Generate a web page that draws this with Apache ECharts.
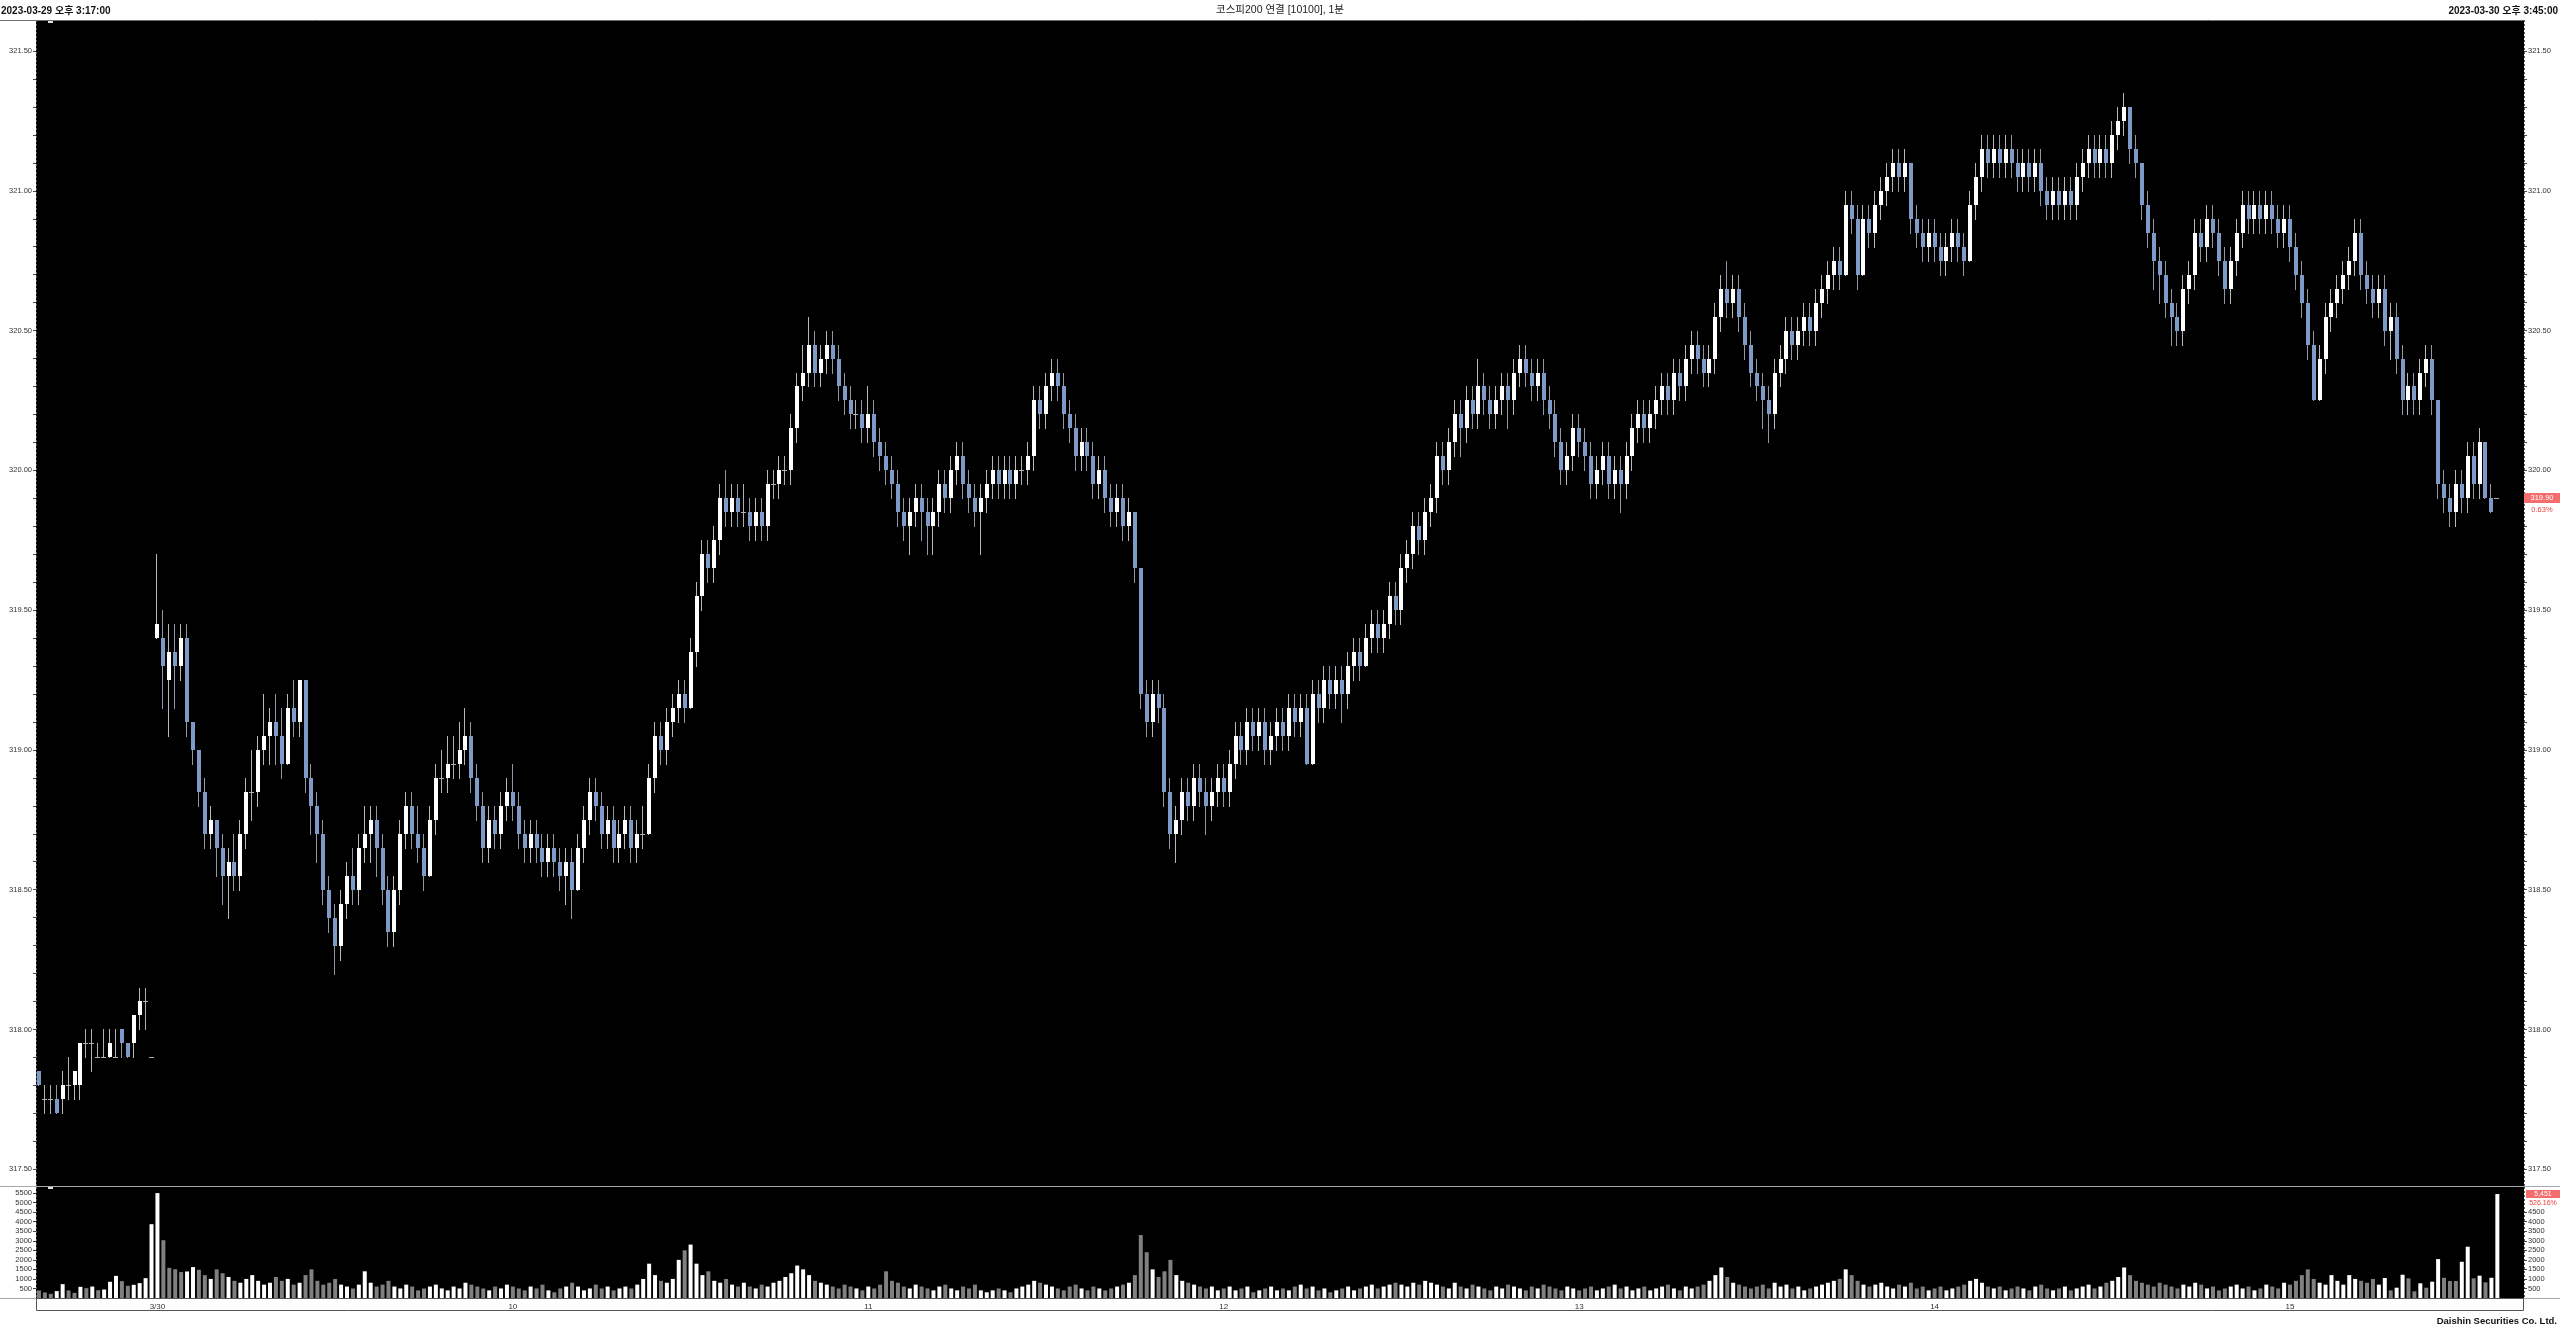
<!DOCTYPE html>
<html><head><meta charset="utf-8">
<script src="https://cdn.jsdelivr.net/npm/echarts@6/dist/echarts.min.js"></script>
<style>html,body{margin:0;padding:0;background:#fff;overflow:hidden}#c{width:2560px;height:1328px}</style>
</head><body><div id="c"></div>
<script>
// ---------------- DATA ----------------
const headerLeft = '2023-03-29 오후 3:17:00';
const headerRight = '2023-03-30 오후 3:45:00';
const titleText = '코스피200 연결 [10100], 1분';
const footerText = 'Daishin Securities Co. Ltd.';
const lastPrice = 319.90, lastChange = '0.63%';
const lastVolume = 5451, volChange = '526.16%';

const priceLabels = [317.5, 318.0, 318.5, 319.0, 319.5, 320.0, 320.5, 321.0, 321.5];
const volLabelsLeft = [500,1000,1500,2000,2500,3000,3500,4000,4500,5000,5500];
const volLabelsRight = [500,1000,1500,2000,2500,3000,3500,4000,4500];
const hourTicks = {'3/30 09:00':'3/30','3/30 10:00':'10','3/30 11:00':'11','3/30 12:00':'12','3/30 13:00':'13','3/30 14:00':'14','3/30 15:00':'15'};

// candles: [open, close, low, high]
const bars0329 = [
[317.85,317.80,317.80,317.85],[317.75,317.75,317.70,317.80],[317.75,317.75,317.70,317.80],[317.75,317.70,317.70,317.80],
[317.75,317.80,317.70,317.85],[317.80,317.80,317.75,317.90],[317.80,317.85,317.75,317.85],[317.80,317.95,317.75,317.95],
[317.95,317.95,317.90,318.00],[317.95,317.95,317.85,318.00],[317.90,317.90,317.90,317.95],[317.90,317.90,317.90,318.00],
[317.90,317.95,317.90,318.00],[317.90,317.90,317.90,318.00],[318.00,317.95,317.90,318.00],[317.95,317.90,317.90,317.95],
[317.95,318.05,317.90,318.05],[318.05,318.10,318.00,318.15],[318.10,318.10,318.00,318.15],[317.90,317.90,317.90,317.90]
];
const vol0329 = [395,290,220,360,725,395,270,585,515,600,410,445,850,1160,885,640,690,780,1040,3870];
const volUp0329 = [0,0,0,1,1,0,0,1,0,1,0,1,1,1,0,0,1,1,1,1];

const bars0330 = [
[319.40,319.45,319.40,319.70],[319.40,319.30,319.15,319.50],[319.25,319.35,319.05,319.45],[319.35,319.30,319.15,319.45],[319.30,319.40,319.25,319.45],
[319.40,319.10,319.05,319.45],[319.10,319.00,318.95,319.10],[319.00,318.85,318.80,319.00],[318.85,318.70,318.65,318.90],[318.70,318.75,318.65,318.80],
[318.75,318.65,318.55,318.75],[318.65,318.55,318.45,318.70],[318.55,318.60,318.40,318.65],[318.60,318.55,318.50,318.70],[318.55,318.70,318.50,318.75],
[318.70,318.85,318.65,318.90],[318.85,318.85,318.75,319.00],[318.85,319.00,318.80,319.05],[319.00,319.05,318.95,319.20],[319.05,319.10,318.95,319.15],
[319.10,319.05,318.95,319.20],[319.05,318.95,318.90,319.15],[318.95,319.15,318.95,319.20],[319.15,319.10,319.05,319.25],[319.10,319.25,319.05,319.25],
[319.25,318.90,318.85,319.25],[318.90,318.80,318.70,318.95],[318.80,318.70,318.60,318.85],[318.70,318.50,318.45,318.75],[318.50,318.40,318.35,318.55],
[318.40,318.30,318.20,318.45],[318.30,318.45,318.25,318.50],[318.45,318.55,318.40,318.60],[318.55,318.50,318.45,318.65],[318.50,318.65,318.45,318.70],
[318.65,318.70,318.60,318.80],[318.70,318.75,318.60,318.80],[318.75,318.65,318.55,318.80],[318.65,318.50,318.45,318.70],[318.50,318.35,318.30,318.55],
[318.35,318.50,318.30,318.55],[318.50,318.70,318.45,318.75],[318.70,318.80,318.65,318.85],[318.80,318.70,318.65,318.85],[318.70,318.65,318.60,318.80],
[318.65,318.55,318.50,318.70],[318.55,318.75,318.55,318.80],[318.75,318.90,318.70,318.95],[318.90,318.90,318.85,319.00],[318.90,318.95,318.85,319.05],
[318.95,318.95,318.90,319.05],[318.95,319.00,318.90,319.10],[319.00,319.05,318.95,319.15],[319.05,318.90,318.85,319.10],[318.90,318.80,318.75,318.95],
[318.80,318.65,318.60,318.85],[318.65,318.75,318.60,318.80],[318.75,318.70,318.65,318.80],[318.70,318.80,318.65,318.85],[318.80,318.85,318.75,318.90],
[318.85,318.80,318.75,318.95],[318.80,318.70,318.65,318.85],[318.70,318.65,318.60,318.75],[318.65,318.70,318.60,318.75],[318.70,318.65,318.60,318.75],
[318.65,318.60,318.55,318.70],[318.60,318.65,318.55,318.70],[318.65,318.60,318.55,318.70],[318.60,318.55,318.50,318.65],[318.55,318.60,318.45,318.65],
[318.60,318.50,318.40,318.65],[318.50,318.65,318.50,318.70],[318.65,318.75,318.60,318.80],[318.75,318.85,318.70,318.90],[318.85,318.80,318.75,318.90],
[318.80,318.70,318.65,318.85],[318.70,318.75,318.65,318.80],[318.75,318.65,318.60,318.80],[318.65,318.70,318.60,318.75],[318.70,318.75,318.65,318.80],
[318.75,318.65,318.60,318.80],[318.65,318.70,318.60,318.75],[318.70,318.70,318.65,318.80],[318.70,318.90,318.70,318.95],[318.90,319.05,318.85,319.10],
[319.05,319.00,318.95,319.10],[319.00,319.10,318.95,319.15],[319.10,319.15,319.05,319.20],[319.15,319.20,319.10,319.25],[319.20,319.15,319.10,319.25],
[319.15,319.35,319.15,319.40],[319.35,319.55,319.30,319.60],[319.55,319.70,319.50,319.75],[319.70,319.65,319.60,319.75],[319.65,319.75,319.60,319.80],
[319.75,319.90,319.70,319.95],[319.90,319.85,319.80,320.00],[319.85,319.90,319.80,319.95],[319.90,319.85,319.80,319.95],[319.85,319.85,319.80,319.95],
[319.85,319.80,319.75,319.90],[319.80,319.85,319.75,319.90],[319.85,319.80,319.75,319.90],[319.80,319.95,319.75,320.00],[319.95,319.95,319.90,320.00],
[319.95,320.00,319.90,320.05],[320.00,320.00,319.95,320.05],[320.00,320.15,319.95,320.20],[320.15,320.30,320.10,320.35],[320.30,320.35,320.25,320.45],
[320.35,320.45,320.30,320.55],[320.45,320.35,320.30,320.50],[320.35,320.40,320.30,320.45],[320.40,320.45,320.35,320.50],[320.45,320.40,320.35,320.50],
[320.40,320.30,320.25,320.45],[320.30,320.25,320.20,320.35],[320.25,320.20,320.15,320.30],[320.20,320.20,320.15,320.25],[320.20,320.15,320.10,320.25],
[320.15,320.20,320.10,320.30],[320.20,320.10,320.05,320.25],[320.10,320.05,320.00,320.15],[320.05,320.00,319.95,320.10],[320.00,319.95,319.90,320.05],
[319.95,319.85,319.80,320.00],[319.85,319.80,319.75,319.90],[319.80,319.85,319.70,319.90],[319.85,319.90,319.80,319.95],[319.90,319.85,319.75,319.95],
[319.85,319.80,319.70,319.90],[319.80,319.85,319.70,319.90],[319.85,319.95,319.80,320.00],[319.95,319.90,319.85,320.00],[319.90,320.00,319.85,320.05],
[320.00,320.05,319.95,320.10],[320.05,319.95,319.90,320.10],[319.95,319.90,319.85,320.00],[319.90,319.85,319.80,319.95],[319.85,319.90,319.70,319.95],
[319.90,319.95,319.85,320.00],[319.95,320.00,319.90,320.05],[320.00,319.95,319.90,320.05],[319.95,320.00,319.90,320.05],[320.00,319.95,319.90,320.05],
[319.95,320.00,319.90,320.05],[320.00,320.00,319.95,320.05],[320.00,320.05,319.95,320.10],[320.05,320.25,320.00,320.30],[320.25,320.20,320.15,320.30],
[320.20,320.30,320.15,320.35],[320.30,320.35,320.25,320.40],[320.35,320.30,320.25,320.40],[320.30,320.20,320.15,320.35],[320.20,320.15,320.10,320.25],
[320.15,320.05,320.00,320.20],[320.05,320.10,320.00,320.15],[320.10,320.05,320.00,320.15],[320.05,319.95,319.90,320.10],[319.95,320.00,319.90,320.05],
[320.00,319.90,319.85,320.05],[319.90,319.85,319.80,319.95],[319.85,319.90,319.80,319.95],[319.90,319.80,319.75,319.95],[319.80,319.85,319.75,319.90],
[319.85,319.65,319.60,319.85],[319.65,319.20,319.15,319.65],[319.20,319.10,319.05,319.25],[319.10,319.20,319.05,319.25],[319.20,319.15,319.10,319.25],
[319.15,318.85,318.80,319.20],[318.85,318.70,318.65,318.90],[318.70,318.75,318.60,318.80],[318.75,318.85,318.70,318.90],[318.85,318.80,318.75,318.90],
[318.80,318.90,318.75,318.95],[318.90,318.85,318.80,318.95],[318.85,318.80,318.70,318.90],[318.80,318.85,318.75,318.90],[318.85,318.90,318.80,318.95],
[318.90,318.85,318.80,318.95],[318.85,318.95,318.80,319.00],[318.95,319.05,318.90,319.10],[319.05,319.00,318.95,319.10],[319.00,319.10,318.95,319.15],
[319.10,319.05,319.00,319.15],[319.05,319.10,319.00,319.15],[319.10,319.00,318.95,319.15],[319.00,319.05,318.95,319.10],[319.05,319.10,319.00,319.15],
[319.10,319.05,319.00,319.15],[319.05,319.15,319.00,319.20],[319.15,319.10,319.05,319.20],[319.10,319.15,319.05,319.20],[319.15,318.95,318.95,319.20],
[318.95,319.20,318.95,319.25],[319.20,319.15,319.10,319.25],[319.15,319.25,319.10,319.30],[319.25,319.20,319.15,319.30],[319.20,319.25,319.15,319.30],
[319.25,319.20,319.10,319.30],[319.20,319.30,319.15,319.35],[319.30,319.35,319.25,319.40],[319.35,319.30,319.25,319.40],[319.30,319.40,319.30,319.45],
[319.40,319.45,319.35,319.50],[319.45,319.40,319.35,319.50],[319.40,319.45,319.35,319.50],[319.45,319.55,319.40,319.60],[319.55,319.50,319.45,319.60],
[319.50,319.65,319.45,319.70],[319.65,319.70,319.60,319.75],[319.70,319.80,319.65,319.85],[319.80,319.75,319.70,319.85],[319.75,319.85,319.70,319.90],
[319.85,319.90,319.80,319.95],[319.90,320.05,319.85,320.10],[320.05,320.00,319.95,320.10],[320.00,320.10,319.95,320.15],[320.10,320.20,320.05,320.25],
[320.20,320.15,320.05,320.25],[320.15,320.25,320.10,320.30],[320.25,320.20,320.15,320.30],[320.20,320.30,320.15,320.40],[320.30,320.25,320.20,320.35],
[320.25,320.20,320.15,320.30],[320.20,320.25,320.15,320.30],[320.25,320.30,320.20,320.35],[320.30,320.25,320.15,320.35],[320.25,320.35,320.20,320.40],
[320.35,320.40,320.30,320.45],[320.40,320.35,320.30,320.45],[320.35,320.30,320.25,320.40],[320.30,320.35,320.25,320.40],[320.35,320.25,320.20,320.40],
[320.25,320.20,320.15,320.30],[320.20,320.10,320.05,320.25],[320.10,320.00,319.95,320.15],[320.00,320.05,319.95,320.10],[320.05,320.15,320.00,320.20],
[320.15,320.10,320.05,320.20],[320.10,320.05,320.00,320.15],[320.05,319.95,319.90,320.10],[319.95,320.00,319.90,320.05],[320.00,320.05,319.95,320.10],
[320.05,319.95,319.90,320.10],[319.95,320.00,319.90,320.05],[320.00,319.95,319.85,320.05],[319.95,320.05,319.90,320.10],[320.05,320.15,320.00,320.20],
[320.15,320.20,320.10,320.25],[320.20,320.15,320.10,320.25],[320.15,320.20,320.10,320.25],[320.20,320.25,320.15,320.30],[320.25,320.30,320.20,320.35],
[320.30,320.25,320.20,320.35],[320.25,320.35,320.20,320.40],[320.35,320.30,320.25,320.40],[320.30,320.40,320.25,320.45],[320.40,320.45,320.35,320.50],
[320.45,320.40,320.35,320.50],[320.40,320.35,320.30,320.45],[320.35,320.40,320.30,320.45],[320.40,320.55,320.35,320.60],[320.55,320.65,320.50,320.70],
[320.65,320.60,320.55,320.75],[320.60,320.65,320.55,320.70],[320.65,320.55,320.50,320.70],[320.55,320.45,320.40,320.60],[320.45,320.35,320.30,320.50],
[320.35,320.30,320.25,320.40],[320.30,320.25,320.15,320.35],[320.25,320.20,320.10,320.30],[320.20,320.35,320.15,320.40],[320.35,320.40,320.30,320.45],
[320.40,320.50,320.35,320.55],[320.50,320.45,320.40,320.55],[320.45,320.50,320.40,320.55],[320.50,320.55,320.45,320.60],[320.55,320.50,320.45,320.60],
[320.50,320.60,320.45,320.65],[320.60,320.65,320.55,320.70],[320.65,320.70,320.60,320.75],[320.70,320.75,320.65,320.80],[320.75,320.70,320.65,320.80],
[320.70,320.95,320.70,321.00],[320.95,320.90,320.85,321.00],[320.90,320.70,320.65,320.95],[320.70,320.90,320.70,320.95],[320.90,320.85,320.80,320.95],
[320.85,320.95,320.80,321.00],[320.95,321.00,320.90,321.05],[321.00,321.05,320.95,321.10],[321.05,321.10,321.00,321.15],[321.10,321.05,321.00,321.15],
[321.05,321.10,321.00,321.15],[321.10,320.90,320.85,321.10],[320.90,320.85,320.80,320.95],[320.85,320.80,320.75,320.90],[320.80,320.85,320.75,320.90],
[320.85,320.80,320.75,320.90],[320.80,320.75,320.70,320.85],[320.75,320.80,320.70,320.85],[320.80,320.85,320.75,320.90],[320.85,320.80,320.75,320.90],
[320.80,320.75,320.70,320.85],[320.75,320.95,320.75,321.00],[320.95,321.05,320.90,321.10],[321.05,321.15,321.00,321.20],[321.15,321.10,321.05,321.20],
[321.10,321.15,321.05,321.20],[321.15,321.10,321.05,321.20],[321.10,321.15,321.05,321.20],[321.15,321.10,321.05,321.20],[321.10,321.05,321.00,321.15],
[321.05,321.10,321.00,321.15],[321.10,321.05,321.00,321.15],[321.05,321.10,321.00,321.15],[321.10,321.00,320.95,321.15],[321.00,320.95,320.90,321.05],
[320.95,321.00,320.90,321.05],[321.00,320.95,320.90,321.05],[320.95,321.00,320.90,321.05],[321.00,320.95,320.90,321.05],[320.95,321.05,320.90,321.10],
[321.05,321.10,321.00,321.15],[321.10,321.15,321.05,321.20],[321.15,321.10,321.05,321.20],[321.10,321.15,321.05,321.20],[321.15,321.10,321.05,321.20],
[321.10,321.20,321.05,321.25],[321.20,321.25,321.15,321.30],[321.25,321.30,321.20,321.35],[321.30,321.15,321.10,321.30],[321.15,321.10,321.05,321.20],
[321.10,320.95,320.90,321.10],[320.95,320.85,320.80,321.00],[320.85,320.75,320.65,320.90],[320.75,320.70,320.60,320.80],[320.70,320.60,320.55,320.75],
[320.60,320.55,320.45,320.65],[320.55,320.50,320.45,320.60],[320.50,320.65,320.45,320.70],[320.65,320.70,320.60,320.75],[320.70,320.85,320.65,320.90],
[320.85,320.80,320.75,320.90],[320.80,320.90,320.75,320.95],[320.90,320.85,320.80,320.95],[320.85,320.75,320.70,320.90],[320.75,320.65,320.60,320.80],
[320.65,320.75,320.60,320.80],[320.75,320.85,320.70,320.90],[320.85,320.95,320.80,321.00],[320.95,320.90,320.85,321.00],[320.90,320.95,320.85,321.00],
[320.95,320.90,320.85,321.00],[320.90,320.95,320.85,321.00],[320.95,320.90,320.85,321.00],[320.90,320.85,320.80,320.95],[320.85,320.90,320.80,320.95],
[320.90,320.80,320.75,320.95],[320.80,320.70,320.65,320.85],[320.70,320.60,320.55,320.75],[320.60,320.45,320.40,320.65],[320.45,320.25,320.25,320.50],
[320.25,320.40,320.25,320.45],[320.40,320.55,320.35,320.60],[320.55,320.60,320.50,320.65],[320.60,320.65,320.55,320.70],[320.65,320.70,320.60,320.75],
[320.70,320.75,320.65,320.80],[320.75,320.85,320.70,320.90],[320.85,320.70,320.65,320.90],[320.70,320.65,320.60,320.75],[320.65,320.60,320.55,320.70],
[320.60,320.65,320.55,320.70],[320.65,320.50,320.45,320.70],[320.50,320.55,320.40,320.60],[320.55,320.40,320.35,320.60],[320.40,320.25,320.20,320.45],
[320.25,320.30,320.20,320.35],[320.30,320.25,320.20,320.35],[320.25,320.35,320.20,320.40],[320.35,320.40,320.30,320.45],[320.40,320.25,320.20,320.45],
[320.25,319.95,319.90,320.25],[319.95,319.90,319.85,320.00],[319.90,319.85,319.80,319.95],[319.85,319.95,319.80,320.00],[319.95,319.90,319.85,320.00],
[319.90,320.05,319.85,320.10],[320.05,319.95,319.90,320.10],[319.95,320.10,319.90,320.15],[320.10,319.90,319.90,320.10],[319.90,319.85,319.85,319.95],
[319.90,319.90,319.90,319.90]
];
const vol0330 = [
5500,3030,1580,1510,1360,1390,1620,1480,1200,1000, 1500,1300,1100,900,800,1000,1200,900,700,800,
1100,900,1000,700,800,1200,1500,900,700,800, 1000,700,600,500,700,1400,800,600,700,900,
600,500,700,600,400,500,600,700,500,400, 600,500,800,700,600,500,400,600,500,700,
600,500,400,600,500,700,400,300,500,600, 800,600,400,500,700,500,600,400,500,600,
500,700,1000,1800,1200,900,800,1000,2000,2500, 2800,1800,1200,1400,900,800,1000,700,600,800,
600,500,700,600,800,900,1100,1300,1700,1500, 1200,900,800,700,600,500,700,600,500,400,
600,500,700,1400,900,800,600,500,700,600, 500,400,600,700,500,400,600,500,700,400,
300,400,500,400,300,500,600,700,900,800, 700,600,500,400,600,700,500,400,600,500,
400,500,600,700,800,1200,3300,2400,1500,1100, 1400,2000,1200,900,800,700,600,500,600,400,
500,600,400,500,600,300,400,500,600,400, 500,400,600,700,500,600,400,500,300,400,
500,600,400,500,600,700,500,600,700,800, 700,600,800,700,900,800,700,600,500,800,
600,500,700,600,500,400,600,500,700,600, 500,400,600,500,700,600,500,400,600,500,
400,500,600,400,500,600,700,500,600,400, 500,600,400,500,600,700,500,400,600,500,
600,700,900,1200,1600,1100,800,700,600,500, 600,700,500,800,600,700,500,600,400,500,
600,700,800,900,1000,1500,1200,900,700,600, 700,800,600,500,700,600,800,500,600,400,
500,600,400,500,600,700,900,1000,800,600, 500,600,400,500,600,500,400,600,700,500,
400,500,600,400,500,600,700,500,600,800, 900,1100,1600,1200,900,800,700,600,800,700,
600,500,700,600,800,700,500,600,400,500, 600,700,500,600,400,500,700,600,500,800,
700,900,1200,1500,1000,800,700,1200,900,700, 1200,1000,900,800,1000,700,1050,400,540,1220,
1030,350,770,540,855,2040,1060,890,890,1900, 2690,1030,1170,820,1060,5451
];
// volume bar direction (index -> 1 white / 0 grey); others follow the candle
const volUp0330Read = {0:1,1:0,2:0,3:0,4:0,5:1,6:1,7:0,
  376:1,377:0,378:1,379:1,380:0,381:0,382:1,383:0,384:1,385:1,386:0,387:0,388:0,389:1,390:1,391:0,392:1,393:0,394:1,395:1};

// ---------------- BUILD ----------------
function hhmm(m){const h=Math.floor(m/60), mm=m%60; return String(h).padStart(2,'0')+':'+String(mm).padStart(2,'0');}
const categories = [];
for (let m = 15*60+17; m <= 15*60+35; m++) categories.push('3/29 '+hhmm(m));
categories.push('3/29 15:45');
for (let m = 9*60; m <= 15*60+34; m++) categories.push('3/30 '+hhmm(m));
categories.push('3/30 15:45');
for (let i = 0; i < 4; i++) categories.push(' '.repeat(i+1));

const candles = bars0329.concat(bars0330);
const vols = vol0329.concat(vol0330);

const UP_BODY = '#ffffff', UP_WICK = '#b8b8b8';
const DN_BODY = '#7d9bc6', DN_WICK = '#8d99a8';
const DOJI = '#b0b0b0';
const VOL_UP = '#ffffff', VOL_DN = '#808080';

const candleData = candles.map((r, i) => [i, r[0], r[1], r[2], r[3]]);
const n29 = vol0329.length;
const volData = vols.map((v, i) => {
  let up;
  if (i < n29) up = volUp0329[i];
  else if (volUp0330Read[i - n29] !== undefined) up = volUp0330Read[i - n29];
  else { const r = candles[i]; up = r[1] >= r[0] ? 1 : 0; }
  return {value: v, itemStyle: {color: up ? VOL_UP : VOL_DN}};
});
const dividerIndex = bars0329.length;

function renderCandle(params, api) {
  const i = api.value(0), o = api.value(1), c = api.value(2), l = api.value(3), h = api.value(4);
  const pO = api.coord([i, o]), pC = api.coord([i, c]), pL = api.coord([i, l]), pH = api.coord([i, h]);
  const X = Math.round(pO[0]);
  const children = [];
  let wick = DOJI, body = DOJI;
  if (c > o) { wick = UP_WICK; body = UP_BODY; }
  else if (c < o) { wick = DN_WICK; body = DN_BODY; }
  const yH = Math.round(pH[1]), yL = Math.round(pL[1]);
  if (yL > yH) children.push({type:'line', shape:{x1:X-0.5, y1:yH, x2:X-0.5, y2:yL+1}, style:{stroke:wick, lineWidth:1}});
  const yT = Math.round(Math.min(pO[1], pC[1])), yB = Math.round(Math.max(pO[1], pC[1]));
  if (yB - yT >= 1) {
    children.push({type:'rect', shape:{x:X-2, y:yT, width:4, height:yB-yT}, style:{fill:body}});
  } else {
    children.push({type:'rect', shape:{x:X-3, y:yT, width:5, height:1}, style:{fill:DOJI}});
  }
  return {type:'group', children};
}

const FONT = '"Liberation Sans", Arial, "Noto Sans CJK KR", sans-serif';
const axLbl = {color:'#333', fontSize:7.5, fontFamily:FONT};
const priceTicks = [];
for (let t = 3175; t <= 3215; t++) priceTicks.push(t / 10);

const chart = echarts.init(document.getElementById('c'), null, {renderer:'canvas'});
const option = {
  animation:false,
  backgroundColor:'#ffffff',
  grid:[
    {left:36, right:36, top:20, height:1166, show:true, backgroundColor:'#000000', borderWidth:0},
    {left:36, right:36, top:1187, height:111, show:true, backgroundColor:'#000000', borderWidth:0}
  ],
  xAxis:[
    {type:'category', gridIndex:0, data:categories, boundaryGap:true,
     axisLine:{show:false}, axisTick:{show:false}, axisLabel:{show:false},
     splitLine:{show:true, interval:(idx)=>idx===dividerIndex, lineStyle:{color:'#5a5a5a', width:1, type:[2,2]}}},
    {type:'category', gridIndex:1, data:categories, boundaryGap:true,
     axisLine:{show:false}, axisTick:{show:false},
     axisLabel:{show:true, interval:(idx,val)=>hourTicks[val]!==undefined, formatter:(val)=>hourTicks[val]||'', margin:5, ...axLbl, fontSize:8},
     splitLine:{show:true, interval:(idx)=>idx===dividerIndex, lineStyle:{color:'#5a5a5a', width:1, type:[2,2]}}}
  ],
  yAxis:[
    {type:'value', gridIndex:0, position:'left', min:317.44, max:321.611, scale:true,
     axisLine:{show:false}, splitLine:{show:false},
     axisTick:{show:true, length:3, lineStyle:{color:'#444'}, customValues:priceTicks},
     axisLabel:{customValues:priceLabels, formatter:(v)=>v.toFixed(2), margin:4, ...axLbl}},
    {type:'value', gridIndex:0, position:'right', min:317.44, max:321.611, scale:true,
     axisLine:{show:false}, splitLine:{show:false},
     axisTick:{show:true, length:3, lineStyle:{color:'#444'}, customValues:priceTicks},
     axisLabel:{customValues:priceLabels, formatter:(v)=>v.toFixed(2), margin:4, ...axLbl}},
    {type:'value', gridIndex:1, position:'left', min:0, max:5820,
     axisLine:{show:false}, splitLine:{show:false},
     axisTick:{show:true, length:3, lineStyle:{color:'#444'}, customValues:volLabelsLeft},
     axisLabel:{customValues:volLabelsLeft, formatter:(v)=>String(v), margin:4, ...axLbl}},
    {type:'value', gridIndex:1, position:'right', min:0, max:5820,
     axisLine:{show:false}, splitLine:{show:false},
     axisTick:{show:true, length:3, lineStyle:{color:'#444'}, customValues:volLabelsRight},
     axisLabel:{customValues:volLabelsRight, formatter:(v)=>String(v), margin:4, ...axLbl}}
  ],
  series:[
    {type:'custom', name:'price', xAxisIndex:0, yAxisIndex:0, data:candleData, renderItem:renderCandle,
     encode:{x:0, y:[1,2,3,4]}, clip:true},
    {type:'bar', name:'volume', xAxisIndex:1, yAxisIndex:2, data:volData, barWidth:4}
  ]
};
chart.setOption(option);

const yLast = chart.convertToPixel({yAxisIndex:1}, lastPrice);
const yVol = chart.convertToPixel({yAxisIndex:3}, lastVolume);
const textBase = {fontFamily:FONT};
chart.setOption({graphic:[
  {type:'line', shape:{x1:0, y1:20.5, x2:2524, y2:20.5}, style:{stroke:'#6e6e6e', lineWidth:1}, z:100},
  {type:'line', shape:{x1:0, y1:1186.5, x2:2560, y2:1186.5}, style:{stroke:'#a8a8a8', lineWidth:1}, z:100},
  {type:'line', shape:{x1:0, y1:1298.5, x2:2560, y2:1298.5}, style:{stroke:'#a8a8a8', lineWidth:1}, z:100},
  {type:'rect', shape:{x:36.5, y:1298.5, width:2487, height:12}, style:{fill:null, stroke:'#555', lineWidth:1}, z:100},
  {type:'rect', shape:{x:48, y:21, width:5, height:2}, style:{fill:'#e0e0e0'}, z:100},
  {type:'rect', shape:{x:48, y:1187, width:5, height:2}, style:{fill:'#e0e0e0'}, z:100},
  {type:'text', x:1, y:11, style:{...textBase, text:headerLeft, fontSize:10, fontWeight:'bold', fill:'#111', verticalAlign:'middle', align:'left'}, z:100},
  {type:'text', x:1280, y:10, style:{...textBase, text:titleText, fontSize:10.5, fill:'#222', verticalAlign:'middle', align:'center'}, z:100},
  {type:'text', x:2558, y:11, style:{...textBase, text:headerRight, fontSize:10, fontWeight:'bold', fill:'#111', verticalAlign:'middle', align:'right'}, z:100},
  {type:'text', x:2557, y:1321, style:{...textBase, text:footerText, fontSize:9.5, fontWeight:'bold', fill:'#111', verticalAlign:'middle', align:'right'}, z:100},
  {type:'rect', shape:{x:2524, y:Math.round(yLast)-5, width:36, height:10}, style:{fill:'#f36d6d'}, z:100},
  {type:'text', x:2542, y:Math.round(yLast), style:{...textBase, text:lastPrice.toFixed(2), fontSize:7.5, fill:'#fff', verticalAlign:'middle', align:'center'}, z:101},
  {type:'text', x:2542, y:Math.round(yLast)+12, style:{...textBase, text:lastChange, fontSize:7.5, fill:'#e8403c', verticalAlign:'middle', align:'center'}, z:101},
  {type:'rect', shape:{x:2526, y:Math.round(yVol)-4, width:34, height:8}, style:{fill:'#f36d6d'}, z:100},
  {type:'text', x:2543, y:Math.round(yVol), style:{...textBase, text:lastVolume.toLocaleString('en-US'), fontSize:7, fill:'#fff', verticalAlign:'middle', align:'center'}, z:101},
  {type:'text', x:2543, y:Math.round(yVol)+9, style:{...textBase, text:volChange, fontSize:7, fill:'#e8403c', verticalAlign:'middle', align:'center'}, z:101}
]});
</script></body></html>
